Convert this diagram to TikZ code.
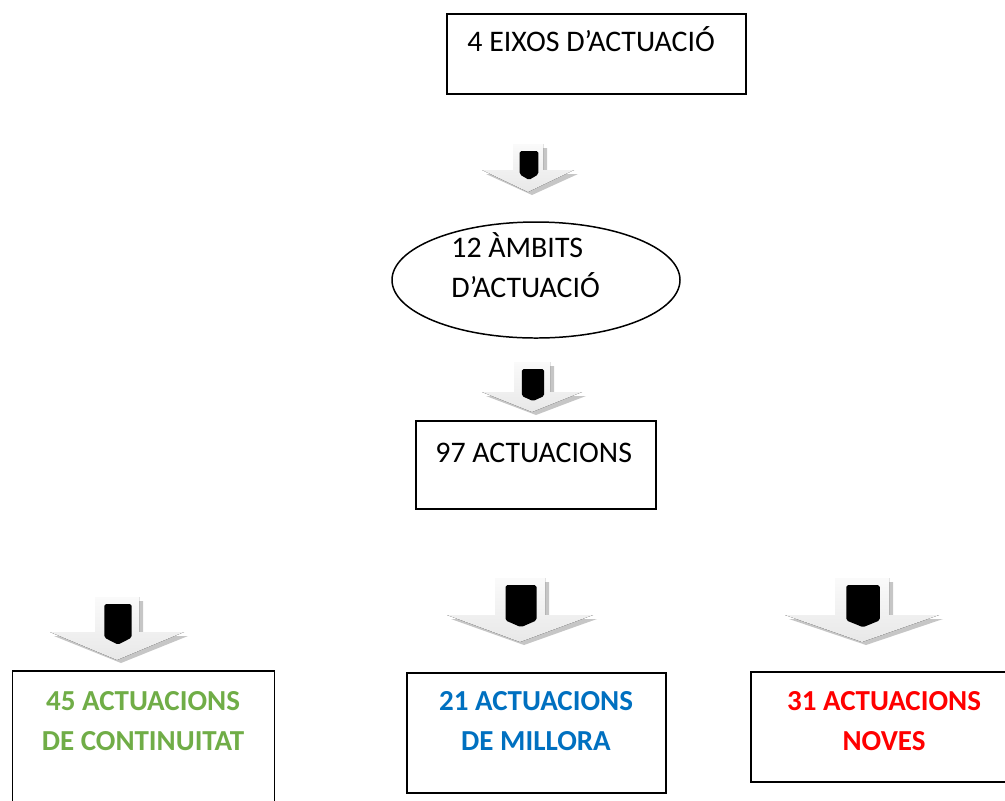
\documentclass[tikz,border=0pt]{standalone}
\usepackage{fontspec}
\setmainfont{Carlito}
\usepackage{tikz}
\usetikzlibrary{shapes.geometric}
\definecolor{verd}{RGB}{112,173,71}
\definecolor{blau}{RGB}{0,112,192}
\definecolor{vermell}{RGB}{255,0,0}
\tikzstyle{caixa}=[draw, line width=0.85pt, inner sep=0pt, anchor=north west]
\tikzstyle{rotul}=[inner sep=0pt, align=left, font=\fontsize{17}{22.7}\selectfont]
\tikzstyle{rotulb}=[rotul, align=center, font=\fontsize{16.5}{22.7}\selectfont\bfseries]
\tikzstyle{ombra}=[fill=gray!45]
\tikzstyle{cos}=[top color=gray!4, bottom color=gray!18]
% fletxa: centre x, dalt, mig tija, mig cap, inici cap, punta
\newcommand{\fletxa}[6]{%
  \fill[ombra] (#1-#3+4,#2+4) -- (#1+#3+4,#2+4) -- (#1+#3+4,#5+4) -- (#1+#4+4,#5+4)
    -- (#1+4,#6+3) -- (#1-#4+4,#5+4) -- (#1-#3+4,#5+4) -- cycle;
  \fill[cos] (#1-#3,#2) -- (#1+#3,#2) -- (#1+#3,#5) -- (#1+#4,#5)
    -- (#1,#6) -- (#1-#4,#5) -- (#1-#3,#5) -- cycle;
  \fill[black, rounded corners=1pt] (#1-0.62*#3+1,#2+7) -- (#1+0.62*#3+1,#2+7)
    -- (#1+0.62*#3+1,{#5+0.2*(#6-#5)}) -- (#1+1,{#5+0.45*(#6-#5)})
    -- (#1-0.62*#3+1,{#5+0.2*(#6-#5)}) -- cycle;
}

\begin{document}
\begin{tikzpicture}[x=0.2mm, y=-0.2mm]
  \useasboundingbox (0,0) rectangle (1005,800);
  \begin{scope}
    \clip (0,0) rectangle (1005,800);
    % caixes
    \node[caixa, minimum width={299*0.2mm}, minimum height={80*0.2mm}] (eixos) at (446,13) {};
    \node[draw, ellipse, line width=0.85pt, minimum width={288*0.2mm}, minimum height={116*0.2mm}] (ambits) at (536,280) {};
    \node[caixa, minimum width={240*0.2mm}, minimum height={88*0.2mm}] (actuacions) at (415,420) {};
    \node[caixa, minimum width={262*0.2mm}, minimum height={150*0.2mm}] (continuitat) at (12,670) {};
    \node[caixa, minimum width={259*0.2mm}, minimum height={120*0.2mm}] (millora) at (406,672) {};
    \node[caixa, minimum width={270*0.2mm}, minimum height={110*0.2mm}] (noves) at (750,671) {};
  \end{scope}
  % textos
  \node[rotul, anchor=base west] (eixostxt) at (467,51) {4 EIXOS D’ACTUACIÓ};
  \node[rotul, anchor=base west] (ambitstxt) at (451,297) {12 ÀMBITS\\D’ACTUACIÓ};
  \node[rotul, anchor=base west] (actuacionstxt) at (435,462) {97 ACTUACIONS};
  \node[rotulb, anchor=base, text=verd] (continuitattxt) at (143,750) {45 ACTUACIONS\\DE CONTINUITAT};
  \node[rotulb, anchor=base, text=blau] (milloratxt) at (536,750) {21 ACTUACIONS\\DE MILLORA};
  \node[rotulb, anchor=base, text=vermell] (novestxt) at (884,750) {31 ACTUACIONS\\NOVES};
  % fletxes
  \fletxa{528}{144}{15}{46}{170}{192}
  \fletxa{532}{362}{18}{50}{392}{412}
  \fletxa{117}{597}{22}{67}{632}{660}
  \fletxa{520}{578}{25}{73}{615}{642}
  \fletxa{862}{578}{27}{77}{615}{642}
\end{tikzpicture}
\end{document}
